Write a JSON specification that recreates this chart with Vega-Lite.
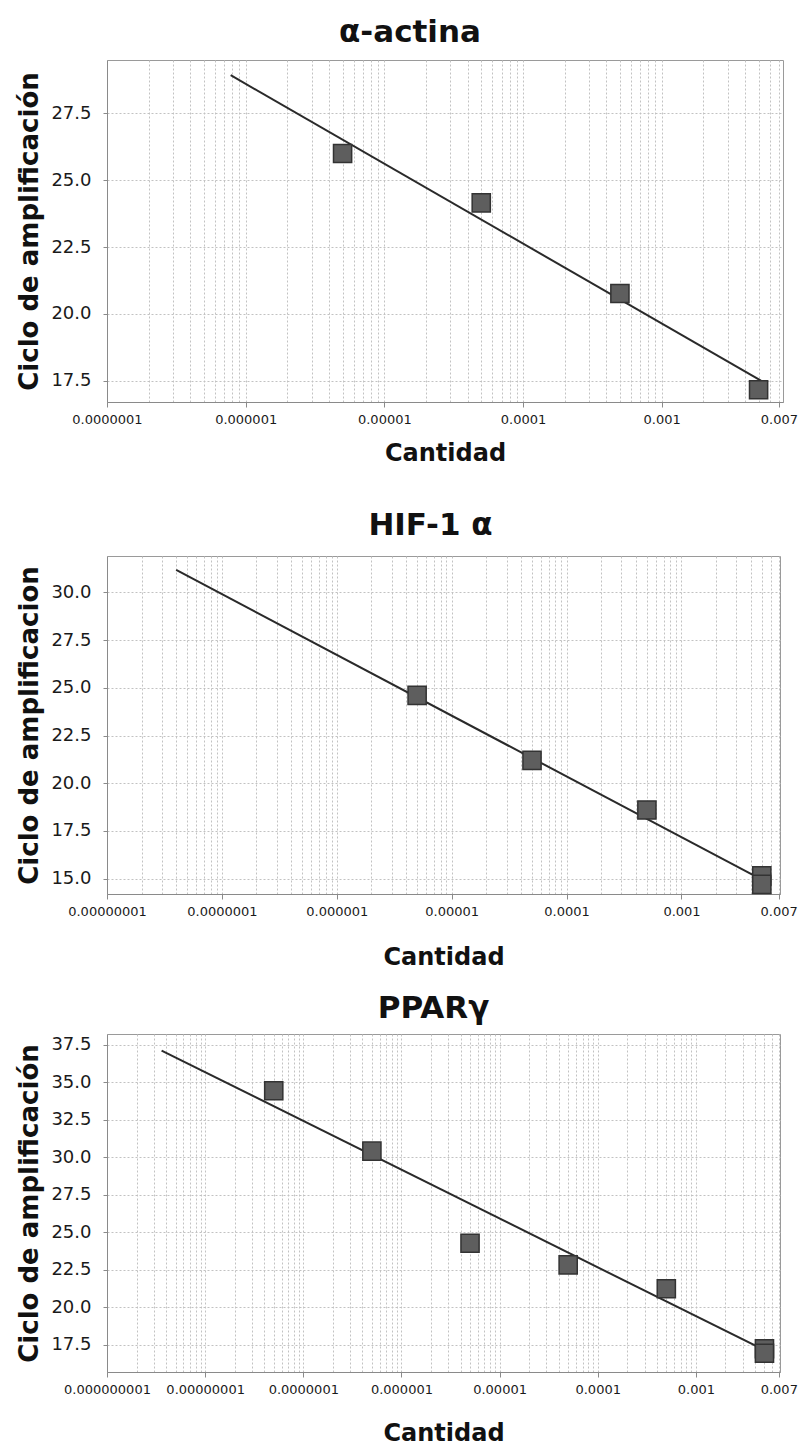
{
  "$schema": "https://vega.github.io/schema/vega-lite/v6.json",
  "background": "white",
  "padding": {"left": 16, "top": 16, "right": 6, "bottom": 2},
  "spacing": 43,
  "datasets": {
    "actina_pts": [
      {"cantidad": 0.000005, "ciclo": 26.0},
      {"cantidad": 0.00005, "ciclo": 24.15},
      {"cantidad": 0.0005, "ciclo": 20.76},
      {"cantidad": 0.005, "ciclo": 17.16}
    ],
    "actina_fit": [
      {"cantidad": 0.00000078, "ciclo": 28.93},
      {"cantidad": 0.0052, "ciclo": 17.5}
    ],
    "hif_pts": [
      {"cantidad": 0.000005, "ciclo": 24.6},
      {"cantidad": 0.00005, "ciclo": 21.2},
      {"cantidad": 0.0005, "ciclo": 18.6},
      {"cantidad": 0.005, "ciclo": 15.15},
      {"cantidad": 0.005, "ciclo": 14.7}
    ],
    "hif_fit": [
      {"cantidad": 0.00000004, "ciclo": 31.17},
      {"cantidad": 0.005, "ciclo": 14.95}
    ],
    "ppar_pts": [
      {"cantidad": 0.00000005, "ciclo": 34.42},
      {"cantidad": 0.0000005, "ciclo": 30.4},
      {"cantidad": 0.000005, "ciclo": 24.27},
      {"cantidad": 0.00005, "ciclo": 22.83},
      {"cantidad": 0.0005, "ciclo": 21.24},
      {"cantidad": 0.005, "ciclo": 17.25},
      {"cantidad": 0.005, "ciclo": 16.95}
    ],
    "ppar_fit": [
      {"cantidad": 0.0000000036, "ciclo": 37.1},
      {"cantidad": 0.005, "ciclo": 17.15}
    ]
  },
  "config": {
    "font": "DejaVu Sans",
    "view": {"stroke": "#9a9a9a", "strokeWidth": 1},
    "axis": {
      "gridColor": "#c2c2c2",
      "gridDash": [2, 2],
      "gridWidth": 1,
      "domainColor": "#8a8a8a",
      "tickColor": "#8a8a8a",
      "labelColor": "#1a1a1a",
      "titleColor": "#111111",
      "labelFont": "DejaVu Sans",
      "titleFont": "DejaVu Sans"
    },
    "axisX": {
      "labelFontSize": 13,
      "labelOverlap": false,
      "labelFlush": false,
      "labelPadding": 6,
      "tickSize": 5,
      "titleFontSize": 24,
      "titleFontWeight": "bold"
    },
    "axisY": {
      "labelFontSize": 18,
      "labelPadding": 12,
      "tickSize": 4,
      "titleFontSize": 26,
      "titleFontWeight": "bold",
      "titlePadding": 8,
      "format": ".1f"
    },
    "title": {"font": "DejaVu Sans", "fontSize": 31, "fontWeight": "bold", "color": "#111111", "anchor": "middle"}
  },
  "vconcat": [
    {
      "title": {"text": "α-actina", "offset": 11, "dx": -35},
      "width": 676,
      "height": 342,
      "encoding": {
        "x": {
          "field": "cantidad", "type": "quantitative",
          "scale": {"type": "log", "domain": [0.0000001, 0.0075], "nice": false},
          "axis": {
            "title": "Cantidad",
            "titlePadding": 15,
            "values": [1e-7, 2e-7, 3e-7, 4e-7, 5e-7, 6e-7, 7e-7, 8e-7, 9e-7, 1e-6, 2e-6, 3e-6, 4e-6, 5e-6, 6e-6, 7e-6, 8e-6, 9e-6, 1e-5, 2e-5, 3e-5, 4e-5, 5e-5, 6e-5, 7e-5, 8e-5, 9e-5, 0.0001, 0.0002, 0.0003, 0.0004, 0.0005, 0.0006, 0.0007, 0.0008, 0.0009, 0.001, 0.002, 0.003, 0.004, 0.005, 0.006, 0.007],
            "labelExpr": "indexof([1e-7, 1e-6, 1e-5, 0.0001, 0.001, 0.007], datum.value) >= 0 ? format(datum.value, '.10~f') : ''",
            "tickOpacity": {"condition": {"test": "indexof([1e-7, 1e-6, 1e-5, 0.0001, 0.001, 0.007], datum.value) >= 0", "value": 1}, "value": 0}
          }
        },
        "y": {
          "field": "ciclo", "type": "quantitative",
          "scale": {"domain": [16.7, 29.5], "nice": false, "zero": false},
          "axis": {"title": "Ciclo de amplificación", "values": [17.5, 20, 22.5, 25, 27.5]}
        }
      },
      "layer": [
        {"data": {"name": "actina_fit"}, "mark": {"type": "line", "color": "#2a2a2a", "strokeWidth": 2, "clip": true}},
        {"data": {"name": "actina_pts"}, "mark": {"type": "point", "shape": "square", "filled": true, "size": 330, "color": "#5e5e5e", "stroke": "#333333", "strokeWidth": 1.5, "opacity": 1}}
      ]
    },
    {
      "spacing": 22,
      "vconcat": [
        {
          "title": {"text": "HIF-1 α", "offset": 14, "dx": -13},
          "width": 673,
          "height": 338,
          "encoding": {
            "x": {
              "field": "cantidad", "type": "quantitative",
              "scale": {"type": "log", "domain": [0.00000001, 0.0072], "nice": false},
              "axis": {
                "title": "Cantidad",
                "titlePadding": 27,
                "values": [1e-8, 2e-8, 3e-8, 4e-8, 5e-8, 6e-8, 7e-8, 8e-8, 9e-8, 1e-7, 2e-7, 3e-7, 4e-7, 5e-7, 6e-7, 7e-7, 8e-7, 9e-7, 1e-6, 2e-6, 3e-6, 4e-6, 5e-6, 6e-6, 7e-6, 8e-6, 9e-6, 1e-5, 2e-5, 3e-5, 4e-5, 5e-5, 6e-5, 7e-5, 8e-5, 9e-5, 0.0001, 0.0002, 0.0003, 0.0004, 0.0005, 0.0006, 0.0007, 0.0008, 0.0009, 0.001, 0.002, 0.003, 0.004, 0.005, 0.006, 0.007],
                "labelExpr": "indexof([1e-8, 1e-7, 1e-6, 1e-5, 0.0001, 0.001, 0.007], datum.value) >= 0 ? format(datum.value, '.10~f') : ''",
                "tickOpacity": {"condition": {"test": "indexof([1e-8, 1e-7, 1e-6, 1e-5, 0.0001, 0.001, 0.007], datum.value) >= 0", "value": 1}, "value": 0}
              }
            },
            "y": {
              "field": "ciclo", "type": "quantitative",
              "scale": {"domain": [14.2, 31.9], "nice": false, "zero": false},
              "axis": {"title": "Ciclo de amplificacion", "values": [15, 17.5, 20, 22.5, 25, 27.5, 30]}
            }
          },
          "layer": [
            {"data": {"name": "hif_fit"}, "mark": {"type": "line", "color": "#2a2a2a", "strokeWidth": 2, "clip": true}},
            {"data": {"name": "hif_pts"}, "mark": {"type": "point", "shape": "square", "filled": true, "size": 330, "color": "#5e5e5e", "stroke": "#333333", "strokeWidth": 1.5, "opacity": 1}}
          ]
        },
        {
          "title": {"text": "PPARγ", "offset": 9, "dx": -10},
          "width": 673,
          "height": 338,
          "encoding": {
            "x": {
              "field": "cantidad", "type": "quantitative",
              "scale": {"type": "log", "domain": [0.000000001, 0.0072], "nice": false},
              "axis": {
                "title": "Cantidad",
                "titlePadding": 25,
                "values": [1e-9, 2e-9, 3e-9, 4e-9, 5e-9, 6e-9, 7e-9, 8e-9, 9e-9, 1e-8, 2e-8, 3e-8, 4e-8, 5e-8, 6e-8, 7e-8, 8e-8, 9e-8, 1e-7, 2e-7, 3e-7, 4e-7, 5e-7, 6e-7, 7e-7, 8e-7, 9e-7, 1e-6, 2e-6, 3e-6, 4e-6, 5e-6, 6e-6, 7e-6, 8e-6, 9e-6, 1e-5, 2e-5, 3e-5, 4e-5, 5e-5, 6e-5, 7e-5, 8e-5, 9e-5, 0.0001, 0.0002, 0.0003, 0.0004, 0.0005, 0.0006, 0.0007, 0.0008, 0.0009, 0.001, 0.002, 0.003, 0.004, 0.005, 0.006, 0.007],
                "labelExpr": "indexof([1e-9, 1e-8, 1e-7, 1e-6, 1e-5, 0.0001, 0.001, 0.007], datum.value) >= 0 ? format(datum.value, '.10~f') : ''",
                "tickOpacity": {"condition": {"test": "indexof([1e-9, 1e-8, 1e-7, 1e-6, 1e-5, 0.0001, 0.001, 0.007], datum.value) >= 0", "value": 1}, "value": 0}
              }
            },
            "y": {
              "field": "ciclo", "type": "quantitative",
              "scale": {"domain": [15.7, 38.2], "nice": false, "zero": false},
              "axis": {"title": "Ciclo de amplificación", "values": [17.5, 20, 22.5, 25, 27.5, 30, 32.5, 35, 37.5]}
            }
          },
          "layer": [
            {"data": {"name": "ppar_fit"}, "mark": {"type": "line", "color": "#2a2a2a", "strokeWidth": 2, "clip": true}},
            {"data": {"name": "ppar_pts"}, "mark": {"type": "point", "shape": "square", "filled": true, "size": 330, "color": "#5e5e5e", "stroke": "#333333", "strokeWidth": 1.5, "opacity": 1}}
          ]
        }
      ]
    }
  ]
}
